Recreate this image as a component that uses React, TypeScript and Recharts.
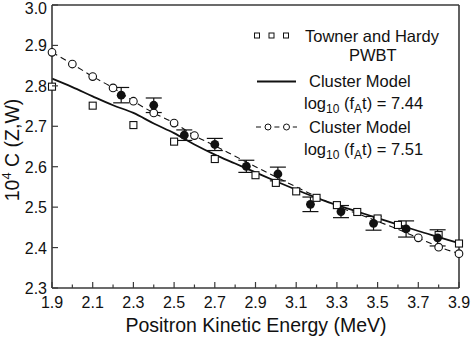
import React from "react";
import { ComposedChart, ErrorBar, Line, Scatter, XAxis, YAxis } from "recharts";

// energy grid (MeV) used for the two model curves
const energyGrid = [1.9, 2.0, 2.1, 2.2, 2.3, 2.4, 2.5, 2.6, 2.7, 2.8, 2.9, 3.0, 3.1, 3.2, 3.3, 3.4, 3.5, 3.6, 3.7, 3.8, 3.9];
const cluster744 = [2.818, 2.797, 2.774, 2.752, 2.733, 2.707, 2.683, 2.655, 2.63, 2.608, 2.586, 2.564, 2.543, 2.523, 2.505, 2.489, 2.473, 2.457, 2.441, 2.426, 2.411];
const cluster751 = [2.883, 2.854, 2.823, 2.795, 2.762, 2.733, 2.708, 2.677, 2.652, 2.626, 2.6, 2.575, 2.55, 2.526, 2.502, 2.484, 2.465, 2.445, 2.424, 2.402, 2.385];

// open circles on the 7.51 curve
const circleX = [1.9, 2.0, 2.1, 2.2, 2.3, 2.4, 2.5, 2.6, 3.7, 3.8, 3.9];
const circleY = [2.883, 2.854, 2.823, 2.795, 2.762, 2.733, 2.708, 2.677, 2.424, 2.401, 2.385];

// Towner and Hardy PWBT
const townerX = [1.9, 2.1, 2.3, 2.5, 2.7, 2.9, 3.0, 3.1, 3.2, 3.3, 3.4, 3.5, 3.6, 3.8, 3.9];
const townerY = [2.798, 2.751, 2.703, 2.662, 2.619, 2.579, 2.56, 2.539, 2.523, 2.505, 2.488, 2.472, 2.456, 2.431, 2.41];

// measured points with error bars
const measX = [2.24, 2.4, 2.55, 2.7, 2.855, 3.01, 3.17, 3.32, 3.48, 3.64, 3.795];
const measY = [2.777, 2.752, 2.678, 2.655, 2.601, 2.582, 2.507, 2.489, 2.46, 2.446, 2.424];
const measErr = [0.019, 0.018, 0.013, 0.015, 0.015, 0.017, 0.018, 0.015, 0.017, 0.02, 0.02];

const xTicks = [1.9, 2.0, 2.1, 2.2, 2.3, 2.4, 2.5, 2.6, 2.7, 2.8, 2.9, 3.0, 3.1, 3.2, 3.3, 3.4, 3.5, 3.6, 3.7, 3.8, 3.9];
const xLabels = ["1.9", "2.1", "2.3", "2.5", "2.7", "2.9", "3.1", "3.3", "3.5", "3.7", "3.9"];
const yTicks = [2.3, 2.4, 2.5, 2.6, 2.7, 2.8, 2.9, 3.0];

const W = 471;
const H = 337;
const INK = "#111";
const AXIS = "#3a3a3a";
const FONT = "'Liberation Sans', Arial, Helvetica, sans-serif";

const curve744 = energyGrid.map((x, i) => ({ x, y: cluster744[i] }));
const curve751 = energyGrid.map((x, i) => ({ x, y: cluster751[i] }));
const circles = circleX.map((x, i) => ({ x, y: circleY[i] }));
const towner = townerX.map((x, i) => ({ x, y: townerY[i] }));
const measured = measX.map((x, i) => ({ x, y: measY[i], err: measErr[i] }));

const isMajor = (v: number) => xLabels.includes(v.toFixed(1));

const BottomTick = ({ x, y, payload }: any) => {
  const major = isMajor(payload.value);
  return (
    <g>
      <line x1={x} x2={x} y1={y} y2={y - (major ? 6 : 3.5)} stroke={AXIS} strokeWidth={1.2} />
      {major ? (
        <text x={x} y={y + 20} textAnchor="middle" fontSize={16} fill={INK} fontFamily={FONT}>
          {payload.value.toFixed(1)}
        </text>
      ) : null}
    </g>
  );
};

const TopTick = ({ x, y, payload }: any) => {
  const major = isMajor(payload.value);
  return <line x1={x} x2={x} y1={y} y2={y + (major ? 6 : 4)} stroke={AXIS} strokeWidth={1.2} />;
};

const LeftTick = ({ x, y, payload }: any) => (
  <g>
    <line x1={x} x2={x + 6} y1={y} y2={y} stroke={AXIS} strokeWidth={1.2} />
    <text x={x - 5} y={Math.max(y + 6, 14)} textAnchor="end" fontSize={16} fill={INK} fontFamily={FONT}>
      {payload.value.toFixed(1)}
    </text>
  </g>
);

const RightTick = ({ x, y }: any) => <line x1={x} x2={x - 6} y1={y} y2={y} stroke={AXIS} strokeWidth={1.2} />;

const SquareDot = ({ cx, cy }: any) => (
  <rect x={cx - 3.5} y={cy - 3.5} width={7} height={7} fill="#fff" stroke={INK} strokeWidth={1.1} />
);
const OpenDot = ({ cx, cy }: any) => <circle cx={cx} cy={cy} r={3.8} fill="#fff" stroke={INK} strokeWidth={1.1} />;
const FilledDot = ({ cx, cy }: any) => <circle cx={cx} cy={cy} r={4.4} fill={INK} />;

function Legend() {
  const sub = { fontSize: 12 };
  return (
    <svg width={W} height={H} style={{ position: "absolute", left: 0, top: 0, pointerEvents: "none" }}>
      <g fontFamily={FONT} fill={INK} fontSize={16.5}>
        {[257, 271.5, 286].map((cx) => (
          <rect key={cx} x={cx - 2.5} y={33} width={5} height={5} fill="#fff" stroke={INK} strokeWidth={1} />
        ))}
        <text x={305} y={42}>Towner and Hardy</text>
        <text x={349} y={60.5}>PWBT</text>

        <line x1={257} x2={296} y1={81.5} y2={81.5} stroke={INK} strokeWidth={1.8} />
        <text x={309} y={87}>Cluster Model</text>
        <text x={304} y={109}>
          log<tspan {...sub} dy={4}>10</tspan>
          <tspan dy={-4}> (f</tspan>
          <tspan {...sub} dy={4}>A</tspan>
          <tspan dy={-4}>t) = 7.44</tspan>
        </text>

        <line x1={256} x2={297} y1={127} y2={127} stroke={INK} strokeWidth={1.1} strokeDasharray="5 4.2" />
        <circle cx={268} cy={127} r={3} fill="#fff" stroke={INK} strokeWidth={1} />
        <circle cx={286.5} cy={127} r={3} fill="#fff" stroke={INK} strokeWidth={1} />
        <text x={309} y={132.5}>Cluster Model</text>
        <text x={304} y={155}>
          log<tspan {...sub} dy={4}>10</tspan>
          <tspan dy={-4}> (f</tspan>
          <tspan {...sub} dy={4}>A</tspan>
          <tspan dy={-4}>t) = 7.51</tspan>
        </text>

        <text x={256} y={332} textAnchor="middle" fontSize={19.5}>
          Positron Kinetic Energy (MeV)
        </text>
        <text transform="translate(19,150) rotate(-90)" textAnchor="middle" fontSize={19.5}>
          10<tspan fontSize={13} dy={-8}>4</tspan>
          <tspan dy={8}> C (Z,W)</tspan>
        </text>
      </g>
    </svg>
  );
}

export default function App() {
  return (
    <div style={{ position: "relative", width: W, height: H, background: "#fff" }}>
      <style>{"body{margin:0}"}</style>
      <ComposedChart width={W} height={H} margin={{ top: 0, right: 0, bottom: 0, left: 0 }}>
        <XAxis
          dataKey="x"
          type="number"
          domain={[1.9, 3.9]}
          ticks={xTicks}
          interval={0}
          height={49}
          tickSize={0}
          tickMargin={0}
          tick={<BottomTick />}
          axisLine={{ stroke: AXIS, strokeWidth: 1.6 }}
          tickLine={false}
        />
        <XAxis
          xAxisId="top"
          orientation="top"
          type="number"
          domain={[1.9, 3.9]}
          ticks={xTicks}
          interval={0}
          height={5}
          tickSize={0}
          tickMargin={0}
          tick={<TopTick />}
          axisLine={{ stroke: AXIS, strokeWidth: 1.6 }}
          tickLine={false}
        />
        <YAxis
          type="number"
          domain={[2.3, 3.0]}
          ticks={yTicks}
          interval={0}
          width={52}
          tickSize={0}
          tickMargin={0}
          tick={<LeftTick />}
          axisLine={{ stroke: AXIS, strokeWidth: 1.6 }}
          tickLine={false}
        />
        <YAxis
          yAxisId="right"
          orientation="right"
          type="number"
          domain={[2.3, 3.0]}
          ticks={yTicks}
          interval={0}
          width={12}
          tickSize={0}
          tickMargin={0}
          tick={<RightTick />}
          axisLine={{ stroke: AXIS, strokeWidth: 1.6 }}
          tickLine={false}
        />
        <Line data={curve744} dataKey="y" type="monotone" stroke={INK} strokeWidth={1.8} dot={false} isAnimationActive={false} />
        <Line
          data={curve751}
          dataKey="y"
          type="monotone"
          stroke={INK}
          strokeWidth={1.1}
          strokeDasharray="6 4"
          dot={false}
          isAnimationActive={false}
        />
        <Scatter data={towner} dataKey="y" shape={<SquareDot />} isAnimationActive={false} />
        <Scatter data={circles} dataKey="y" shape={<OpenDot />} isAnimationActive={false} />
        <Scatter data={measured} dataKey="y" shape={<FilledDot />} isAnimationActive={false}>
          <ErrorBar dataKey="err" direction="y" width={8} stroke={INK} strokeWidth={1.2} />
        </Scatter>
      </ComposedChart>
      <Legend />
    </div>
  );
}
